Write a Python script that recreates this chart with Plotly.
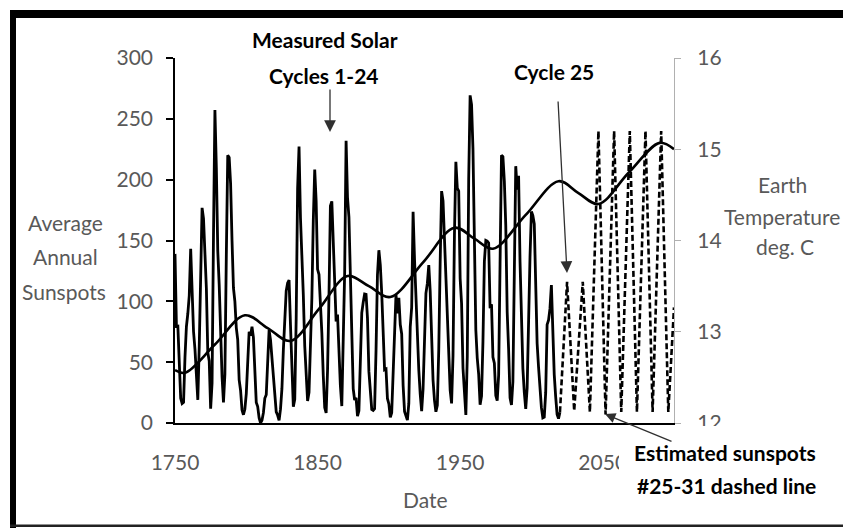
import plotly.graph_objects as go

# ---------------- data ----------------
years_measured = list(range(1750, 2021))
sunspots_measured = [
    139.0, 79.5, 79.7, 51.2, 20.3, 16.0, 17.0, 54.0, 79.3, 90.0,
    104.8, 143.2, 102.0, 75.2, 60.7, 34.8, 19.0, 63.0, 116.3, 176.8,
    168.0, 136.0, 110.8, 58.0, 51.0, 11.7, 33.0, 154.2, 257.3, 209.8,
    141.3, 113.5, 64.2, 38.0, 17.0, 40.2, 138.2, 220.0, 218.2, 196.8,
    149.8, 111.0, 100.0, 78.2, 68.3, 35.5, 26.7, 10.7, 6.8, 11.3,
    24.2, 56.7, 75.0, 71.8, 79.2, 70.3, 46.8, 16.8, 13.5, 4.2,
    0.0, 2.3, 8.3, 20.3, 23.2, 59.0, 76.3, 68.3, 52.9, 38.5,
    24.2, 9.2, 6.3, 2.2, 11.4, 28.2, 59.9, 83.0, 108.5, 115.2,
    117.4, 80.8, 44.3, 13.4, 19.5, 85.8, 192.7, 227.3, 168.7, 143.0,
    105.5, 63.3, 40.3, 18.1, 25.1, 65.8, 102.7, 166.3, 208.3, 182.5,
    126.3, 122.0, 102.7, 74.1, 39.0, 12.7, 8.2, 43.4, 104.4, 178.3,
    182.2, 146.6, 112.1, 83.5, 89.2, 57.8, 30.7, 13.9, 62.8, 123.6,
    232.0, 185.3, 169.2, 110.1, 74.5, 28.3, 18.9, 20.7, 5.7, 10.0,
    53.7, 90.5, 99.0, 106.1, 105.8, 86.3, 42.4, 21.8, 11.2, 10.4,
    11.8, 59.5, 121.7, 142.0, 130.0, 106.6, 69.4, 43.8, 44.4, 20.2,
    15.7, 4.6, 8.5, 40.8, 70.1, 105.5, 90.1, 102.8, 80.9, 73.2,
    30.9, 9.5, 6.0, 2.4, 16.1, 79.0, 95.0, 173.6, 134.6, 105.7,
    62.7, 43.5, 23.7, 9.7, 27.9, 74.0, 106.5, 114.7, 129.7, 108.2,
    59.4, 35.1, 18.6, 9.2, 14.6, 60.2, 132.8, 190.6, 182.6, 148.0,
    113.0, 79.2, 50.8, 27.1, 16.1, 55.3, 154.3, 214.7, 193.0, 190.7,
    118.9, 98.3, 45.0, 20.1, 6.6, 54.2, 200.7, 269.3, 261.7, 225.1,
    159.0, 76.4, 53.4, 39.9, 15.0, 22.0, 66.8, 132.9, 150.0, 149.4,
    148.0, 94.4, 97.6, 54.1, 49.2, 22.5, 18.4, 39.3, 131.0, 220.1,
    218.9, 198.9, 162.4, 91.0, 60.5, 20.6, 14.8, 33.9, 123.0, 211.1,
    191.8, 203.3, 133.0, 76.1, 44.9, 25.1, 11.6, 28.9, 88.3, 136.3,
    173.9, 170.4, 163.6, 99.3, 65.3, 45.8, 24.7, 12.6, 4.2, 4.8,
    24.9, 80.8, 84.5, 94.0, 113.3, 69.8, 39.8, 21.7, 7.0, 3.6,
    8.8,
]

years_estimated = [2020, 2025, 2030, 2036, 2041, 2047, 2052, 2058, 2063,
                   2069, 2074, 2080, 2085, 2091, 2096, 2100]
sunspots_estimated = [8.8, 116, 10, 116, 9, 240, 7, 240, 9,
                      240, 9, 240, 9, 240, 9, 95]

temp_years = [1750, 1757, 1778, 1799, 1815, 1831, 1851, 1871, 1886, 1901,
              1924, 1946, 1960, 1973, 1996, 2019, 2033, 2047, 2068, 2090, 2100]
temp_values = [12.58, 12.55, 12.86, 13.18, 13.04, 12.90, 13.25, 13.61, 13.50, 13.38,
               13.76, 14.14, 14.02, 13.91, 14.28, 14.65, 14.52, 14.40, 14.74, 15.07, 15.00]

x_ticks = [1750, 1850, 1950, 2050]
y_ticks = [0, 50, 100, 150, 200, 250, 300]
y2_ticks = [12, 13, 14, 15, 16]

# ---------------- layout geometry ----------------
W, H = 843, 528
L, R, T, B = 175, 169, 58, 105
PW, PH = W - L - R, H - T - B


def px(x):
    return (x - L) / PW


def py(y):
    return (H - B - y) / PH


FONT = "Lato, 'Open Sans', sans-serif"
GRAY = "#595959"

fig = go.Figure()
fig.add_trace(go.Scatter(x=years_measured, y=sunspots_measured, mode="lines",
                         line=dict(color="black", width=2.8), showlegend=False))
fig.add_trace(go.Scatter(x=years_estimated, y=sunspots_estimated, mode="lines",
                         line=dict(color="black", width=2.6, dash="6px,3px"),
                         showlegend=False))
fig.add_trace(go.Scatter(x=temp_years, y=temp_values, mode="lines", yaxis="y2",
                         line=dict(color="black", width=2.6, shape="spline", smoothing=1.0),
                         showlegend=False))

annotations = []

# white box behind the bottom-right callout (it hides part of the tick labels)
annotations.append(dict(text=" ", x=px(731), y=py(473), xref="paper", yref="paper",
                        xanchor="center", yanchor="middle", showarrow=False,
                        width=224, height=94, bgcolor="white", borderpad=0, borderwidth=0))


def text_ann(txt, cx, cy, size=21, color=GRAY, bold=False):
    if bold:
        txt = "<b>" + txt + "</b>"
    annotations.append(dict(text=txt, x=px(cx), y=py(cy), xref="paper", yref="paper",
                            xanchor="center", yanchor="middle", showarrow=False,
                            font=dict(family=FONT, size=size, color=color)))


def arrow(tipx, tipy, tailx, taily, head=2, size=1.8, width=1.3, color="#303030"):
    annotations.append(dict(text="", x=px(tipx), y=py(tipy), xref="paper", yref="paper",
                            ax=tailx - tipx, ay=taily - tipy, axref="pixel", ayref="pixel",
                            showarrow=True, arrowhead=head, arrowsize=size,
                            arrowwidth=width, arrowcolor=color, standoff=0,
                            startstandoff=0))


# axis titles
text_ann("Average", 65, 222)
text_ann("Annual", 65, 256)
text_ann("Sunspots", 64, 291)
text_ann("Earth", 782, 184)
text_ann("Temperature", 782, 216)
text_ann("deg. C", 785, 246)
text_ann("Date", 425, 499)

# callouts
text_ann("Measured Solar", 325, 40, size=21, color="black", bold=True)
text_ann("Cycles 1-24", 324, 75, size=21, color="black", bold=True)
text_ann("Cycle 25", 554, 72, size=21, color="black", bold=True)
text_ann("Estimated sunspots", 725, 453, size=21, color="black", bold=True)
text_ann("#25-31 dashed line", 726, 485, size=21, color="black", bold=True)

arrow(330, 132, 330, 88)
arrow(567, 273, 558, 100)
arrow(605, 414, 673, 442, size=1.6, width=1.3)

shapes = [
    # black frame
    dict(type="rect", xref="paper", yref="paper", x0=px(10), x1=px(843), y0=py(10), y1=py(18),
         fillcolor="black", line=dict(width=0), layer="above"),
    dict(type="rect", xref="paper", yref="paper", x0=px(10), x1=px(16), y0=py(10), y1=py(528),
         fillcolor="black", line=dict(width=0), layer="above"),
    dict(type="rect", xref="paper", yref="paper", x0=px(10), x1=px(843), y0=py(524.5), y1=py(527),
         fillcolor="#222222", line=dict(width=0), layer="above"),
]

fig.update_layout(
    width=W, height=H,
    margin=dict(l=L, r=R, t=T, b=B, pad=0),
    paper_bgcolor="white", plot_bgcolor="white",
    font=dict(family=FONT, size=21, color=GRAY),
    xaxis=dict(range=[1750, 2100], tickvals=x_ticks, ticktext=[str(v) for v in x_ticks],
               showgrid=False, zeroline=False, showline=True, linecolor="black", linewidth=2,
               ticks="outside", ticklen=20, tickcolor="rgba(0,0,0,0)",
               tickfont=dict(family=FONT, size=21, color=GRAY)),
    yaxis=dict(range=[0, 300], tickvals=y_ticks, showgrid=False, zeroline=False,
               showline=True, linecolor="black", linewidth=1.5,
               ticks="outside", ticklen=7, tickwidth=1.5, tickcolor="black",
               ticklabelstandoff=9,
               tickfont=dict(family=FONT, size=21, color=GRAY)),
    yaxis2=dict(range=[12, 16], tickvals=y2_ticks, overlaying="y", side="right",
                showgrid=False, zeroline=False, showline=True, linecolor="#b0b0b0",
                linewidth=1.2, ticks="outside", ticklen=6, tickwidth=1.2, tickcolor="#b0b0b0",
                ticklabelstandoff=12,
                tickfont=dict(family=FONT, size=21, color=GRAY)),
    annotations=annotations,
    shapes=shapes,
)

fig.write_html("out.html", config={"displayModeBar": False},
               post_script="document.body.style.margin='0';")
